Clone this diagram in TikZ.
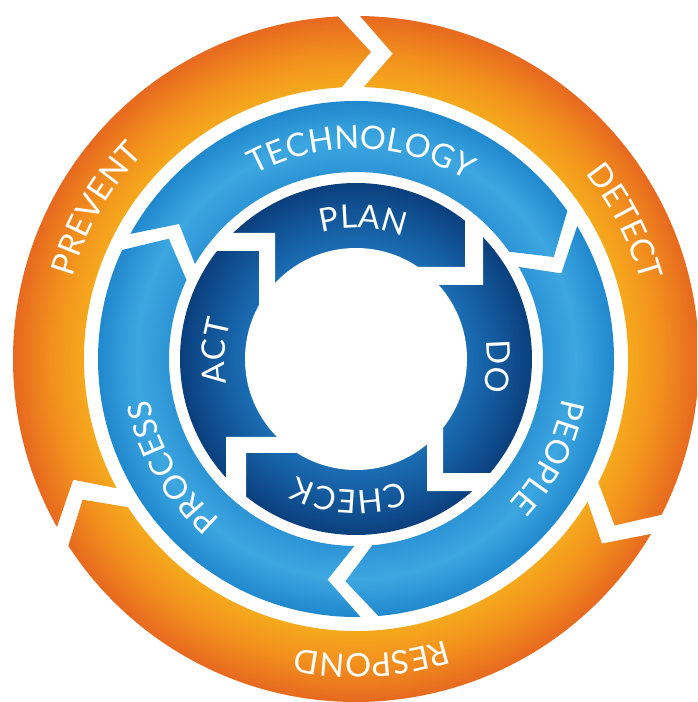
\documentclass[tikz,border=0pt]{standalone}
\usepackage{fontspec}
\usetikzlibrary{decorations.text}
\newfontfamily\ringfont{Lato}
\newcommand{\labeltype}{\ringfont\fontsize{18.5}{22}\selectfont}

\definecolor{orIn}{HTML}{F6A91D}
\definecolor{orMid}{HTML}{F2901D}
\definecolor{orOut}{HTML}{E7691F}
\definecolor{blIn}{HTML}{2C94D5}
\definecolor{blMid}{HTML}{3DA7E1}
\definecolor{blOut}{HTML}{2088CD}
\definecolor{dkIn}{HTML}{1B6DB4}
\definecolor{dkMid}{HTML}{13599C}
\definecolor{dkOut}{HTML}{0B3F7D}

% radial ramps: 25bp is the outer edge of the shaded disc
\pgfdeclareradialshading{orangering}{\pgfpoint{0bp}{0bp}}{%
  color(0bp)=(orIn); color(19.8bp)=(orIn); color(22.2bp)=(orMid);
  color(25bp)=(orOut); color(50bp)=(orOut)}
\pgfdeclareradialshading{bluering}{\pgfpoint{0bp}{0bp}}{%
  color(0bp)=(blIn); color(18.1bp)=(blIn); color(21.3bp)=(blMid);
  color(25bp)=(blOut); color(50bp)=(blOut)}
\pgfdeclareradialshading{darkring}{\pgfpoint{0bp}{0bp}}{%
  color(0bp)=(dkIn); color(15.8bp)=(dkIn); color(20bp)=(dkMid);
  color(25bp)=(dkOut); color(50bp)=(dkOut)}

\tikzset{
  ringlabel/.style={decorate,decoration={text along path,
      text={|\labeltype|#1},text align=center,text color=white}},
  notch/.style={fill=white},
}

% curved arrow band: shading, r in, r out, previous head, head, tip depth, gap
\newcommand{\ringarrow}[7]{%
  \pgfmathsetmacro\segmid{(#2+#3)/2}
  \pgfmathsetmacro\segtip{#5-deg(#6/\segmid)}
  \pgfmathsetmacro\segto{#4-deg(#7/#3)}
  \pgfmathsetmacro\segti{#4-deg(#7/#2)}
  \pgfmathsetmacro\segtm{#4-deg((#6+#7)/\segmid)}
  \begin{scope}
    \clip (\segto:#3) arc[start angle=\segto,end angle=#5,radius=#3]
      -- (\segtip:\segmid) -- (#5:#2)
      arc[start angle=#5,end angle=\segti,radius=#2]
      -- (\segtm:\segmid) -- cycle;
    \shade[shading=#1] (0,0) circle (#3);
  \end{scope}}

% clockwise label on a circle: radius, centre angle, text
\newcommand{\arclabel}[3]{%
  \path[ringlabel={#3}] ({#2+60}:#1)
    arc[start angle={#2+60},end angle={#2-60},radius=#1];}

\begin{document}
\begin{tikzpicture}[x=0.02cm,y=0.02cm]
  \clip (-356,-343) rectangle (341,359);

  % PDCA core
  \shade[shading=darkring] (0,0) circle (176);
  \begin{scope}
    \clip (0,0) circle (182);
    \fill[notch] (-200,126) -- (-81,126) -- (-81,0) -- (-97,0)
      -- (-97,108) -- (-200,108) -- cycle;
    \fill[notch] (109,200) -- (127,200) -- (127,74) -- (0,74)
      -- (0,92) -- (109,92) -- cycle;
    \fill[notch] (200,-114) -- (87,-114) -- (87,0) -- (71,0)
      -- (71,-132) -- (200,-132) -- cycle;
    \fill[notch] (-130,-200) -- (-130,-78) -- (0,-78) -- (0,-94)
      -- (-110,-94) -- (-110,-200) -- cycle;
  \end{scope}
  \fill[white] (0,0) circle (111);

  % middle ring
  \ringarrow{bluering}{187}{258}{275}{155}{30}{18}
  \ringarrow{bluering}{187}{258}{155}{35}{30}{18}
  \ringarrow{bluering}{187}{258}{35}{-85}{30}{18}

  % outer ring
  \ringarrow{orangering}{272}{343}{213}{93}{31}{22}
  \ringarrow{orangering}{272}{343}{93}{-27}{31}{22}
  \ringarrow{orangering}{272}{343}{-27}{-147}{31}{22}

  % labels
  \arclabel{131}{87}{PLAN}
  \arclabel{131}{-3}{DO}
  \arclabel{131}{-93}{CHECK}
  \arclabel{131}{177}{ACT}
  \arclabel{210}{88.5}{TECHNOLOGY}
  \arclabel{210}{-27}{PEOPLE}
  \arclabel{210}{210.5}{PROCESS}
  \arclabel{295}{150}{PREVENT}
  \arclabel{295}{27}{DETECT}
  \arclabel{295}{-87}{RESPOND}
\end{tikzpicture}
\end{document}
